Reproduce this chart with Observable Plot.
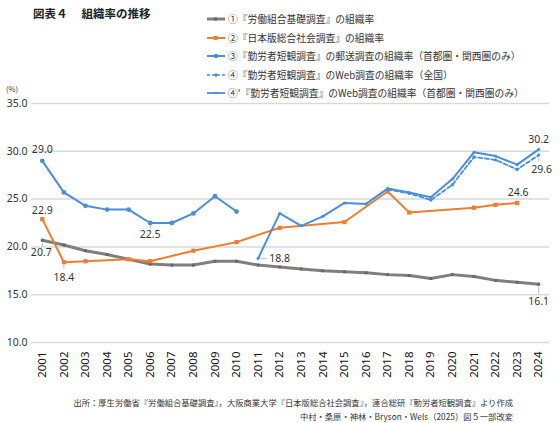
<!DOCTYPE html>
<html>
<head>
<meta charset="utf-8">
<script src="https://cdn.jsdelivr.net/npm/d3@7"></script>
<script src="https://cdn.jsdelivr.net/npm/@observablehq/plot@0.6"></script>
<style>
  body { margin: 0; background: #fff; font-family: "Noto Sans CJK JP", "Noto Sans", sans-serif; }
  #wrap { position: relative; width: 560px; height: 423px; overflow: hidden; }
  #title { position: absolute; left: 33px; top: 5px; font-size: 11.5px; font-weight: bold; color: #222; white-space: pre; }
  #legend { position: absolute; left: 206px; top: 10px; font-size: 9.75px; color: #333; }
  #legend .row { height: 18.5px; display: flex; align-items: center; white-space: nowrap; }
  #legend svg { margin-right: 2px; }
  #unit { position: absolute; left: 6px; top: 83px; font-size: 7.5px; color: #333; }
  #chart { position: absolute; left: 0; top: 96px; }
  #footer { position: absolute; right: 47px; top: 395px; font-size: 8.3px; color: #333; text-align: right; line-height: 14px; }
</style>
</head>
<body>
<div id="wrap">
  <div id="title">図表４　 組織率の推移</div>
  <div id="legend"></div>
  <div id="unit">(%)</div>
  <div id="chart"></div>
  <div id="footer">出所：厚生労働省『労働組合基礎調査』，大阪商業大学『日本版総合社会調査』，連合総研『勤労者短観調査』より作成<br>中村・桑原・神林・Bryson・Wels（2025）図５一部改変</div>
</div>
<script>
// data
const years = [2001, 2002, 2003, 2004, 2005, 2006, 2007, 2008, 2009, 2010, 2011, 2012,
               2013, 2014, 2015, 2016, 2017, 2018, 2019, 2020, 2021, 2022, 2023, 2024];
const unionSurvey = [20.7, 20.2, 19.6, 19.2, 18.7, 18.2, 18.1, 18.1, 18.5, 18.5, 18.1, 17.9,
                     17.7, 17.5, 17.4, 17.3, 17.1, 17.0, 16.7, 17.1, 16.9, 16.5, 16.3, 16.1];
const jgss = [22.9, 18.4, 18.5, null, 18.7, 18.5, null, 19.6, null, 20.5, null, 22.0,
              null, null, 22.6, null, 25.8, 23.6, null, null, 24.1, 24.4, 24.6, null];
const mailMetro = [29.0, 25.7, 24.3, 23.9, 23.9, 22.5, 22.5, 23.5, 25.3, 23.7, null, null,
                   null, null, null, null, null, null, null, null, null, null, null, null];
const webAll = [null, null, null, null, null, null, null, null, null, null, null, null,
                null, null, null, null, 26.0, 25.6, 24.9, 26.5, 29.4, 29.1, 28.1, 29.6];
const webMetro = [null, null, null, null, null, null, null, null, null, null, 18.8, 23.5,
                  22.2, 23.2, 24.6, 24.5, 26.1, 25.7, 25.2, 27.1, 29.9, 29.5, 28.6, 30.2];
const yTicks = [10, 15, 20, 25, 30, 35];

const legendLabels = [
  "①『労働組合基礎調査』の組織率",
  "②『日本版総合社会調査』の組織率",
  "③『勤労者短観調査』の郵送調査の組織率（首都圏・関西圏のみ）",
  "④『勤労者短観調査』のWeb調査の組織率（全国）",
  "④'『勤労者短観調査』のWeb調査の組織率（首都圏・関西圏のみ）"
];

const GRAY = "#7f7f7f", ORANGE = "#ed7d31", BLUE = "#4a8edb";

// turn a series into rows, dropping missing years
const rows = vals => years.map((year, i) => ({year, value: vals[i]})).filter(d => d.value != null);

const union = rows(unionSurvey);
const gss = rows(jgss);
const mail = rows(mailMetro);
const wAll = rows(webAll);
const wMetro = rows(webMetro);

// legend swatches
const swatches = [
  `<svg width="20" height="8"><line x1="1" y1="4" x2="19" y2="4" stroke="${GRAY}" stroke-width="3"/><rect x="8" y="2.5" width="3" height="3" fill="#666"/></svg>`,
  `<svg width="20" height="8"><line x1="1" y1="4" x2="19" y2="4" stroke="${ORANGE}" stroke-width="2"/><rect x="7.5" y="2" width="4" height="4" fill="${ORANGE}"/></svg>`,
  `<svg width="20" height="8"><line x1="1" y1="4" x2="19" y2="4" stroke="${BLUE}" stroke-width="2"/><circle cx="10" cy="4" r="2.2" fill="${BLUE}"/></svg>`,
  `<svg width="20" height="8"><line x1="1" y1="4" x2="19" y2="4" stroke="${BLUE}" stroke-width="1.6" stroke-dasharray="3,2"/><circle cx="10" cy="4" r="1.7" fill="${BLUE}"/></svg>`,
  `<svg width="20" height="8"><line x1="1" y1="4" x2="19" y2="4" stroke="${BLUE}" stroke-width="1.8"/><circle cx="10" cy="4" r="1.3" fill="${BLUE}"/></svg>`
];
document.getElementById("legend").innerHTML = legendLabels
  .map((t, i) => `<div class="row">${swatches[i]}<span>${t}</span></div>`).join("");

const first = arr => arr.slice(0, 1);
const last = arr => arr.slice(-1);
const at = (arr, y) => arr.filter(d => d.year === y);

const labelStyle = {x: "year", y: "value", text: d => d.value.toFixed(1), fontSize: 10.5, fill: "#333"};
const leader = {x: "year", y1: "value", y2: "value", stroke: "#aaa", strokeWidth: 0.8};

const chart = Plot.plot({
  width: 560,
  height: 300,
  marginLeft: 31,
  marginRight: 11,
  marginTop: 7,
  marginBottom: 54,
  style: {fontFamily: "'Noto Sans', sans-serif", fontSize: "10.5px", color: "#333", background: "transparent"},
  x: {type: "linear", domain: [2000.5, 2024.5], label: null},
  y: {domain: [10, 35], label: null},
  marks: [
    Plot.ruleY(yTicks, {stroke: "#d9d9d9", strokeWidth: 1.5}),
    Plot.axisY({ticks: yTicks, tickFormat: d => d.toFixed(1), tickSize: 0, tickPadding: 4, fontSize: 10.5}),
    Plot.axisX({ticks: years, tickFormat: d => String(d), tickRotate: -90, tickSize: 0, tickPadding: 9,
                fontSize: 11.5, fill: "#111"}),

    // leader lines
    Plot.ruleX(first(union), {...leader, insetTop: 3, insetBottom: -7}),
    Plot.ruleX(at(gss, 2002), {...leader, insetTop: 3, insetBottom: -7}),
    Plot.ruleX(at(mail, 2006), {...leader, insetTop: 3, insetBottom: -6}),
    Plot.ruleX(last(union), {...leader, insetTop: 3, insetBottom: -10}),
    Plot.ruleX(last(wAll), {...leader, insetTop: 3, insetBottom: -7}),
    Plot.ruleY(first(wMetro), {x1: "year", x2: "year", y: "value", stroke: "#aaa", strokeWidth: 0.8, insetLeft: 3, insetRight: -9}),

    // series
    Plot.line(union, {x: "year", y: "value", stroke: GRAY, strokeWidth: 3}),
    Plot.dot(union, {x: "year", y: "value", symbol: "square", r: 1.6, fill: "#666"}),
    Plot.line(gss, {x: "year", y: "value", stroke: ORANGE, strokeWidth: 2}),
    Plot.dot(gss, {x: "year", y: "value", symbol: "square", r: 2.4, fill: ORANGE}),
    Plot.line(wAll, {x: "year", y: "value", stroke: BLUE, strokeWidth: 1.8, strokeDasharray: "4,2.5"}),
    Plot.dot(wAll, {x: "year", y: "value", r: 1.7, fill: BLUE}),
    Plot.line(mail, {x: "year", y: "value", stroke: BLUE, strokeWidth: 2}),
    Plot.dot(mail, {x: "year", y: "value", r: 2.4, fill: BLUE}),
    Plot.line(wMetro, {x: "year", y: "value", stroke: BLUE, strokeWidth: 2}),
    Plot.dot(wMetro, {x: "year", y: "value", r: 1.5, fill: BLUE}),

    // value labels
    Plot.text(first(mail), {...labelStyle, dy: -11}),
    Plot.text(first(gss), {...labelStyle, dy: -9}),
    Plot.text(first(union), {...labelStyle, dy: 12, dx: -1}),
    Plot.text(at(gss, 2002), {...labelStyle, dy: 15}),
    Plot.text(at(mail, 2006), {...labelStyle, dy: 12}),
    Plot.text(first(wMetro), {...labelStyle, dx: 11, textAnchor: "start"}),
    Plot.text(last(wMetro), {...labelStyle, dy: -10}),
    Plot.text(last(wAll), {...labelStyle, dy: 15, dx: 3}),
    Plot.text(last(gss), {...labelStyle, dy: -10, dx: 1}),
    Plot.text(last(union), {...labelStyle, dy: 17})
  ]
});
document.getElementById("chart").appendChild(chart);
</script>
</body>
</html>
